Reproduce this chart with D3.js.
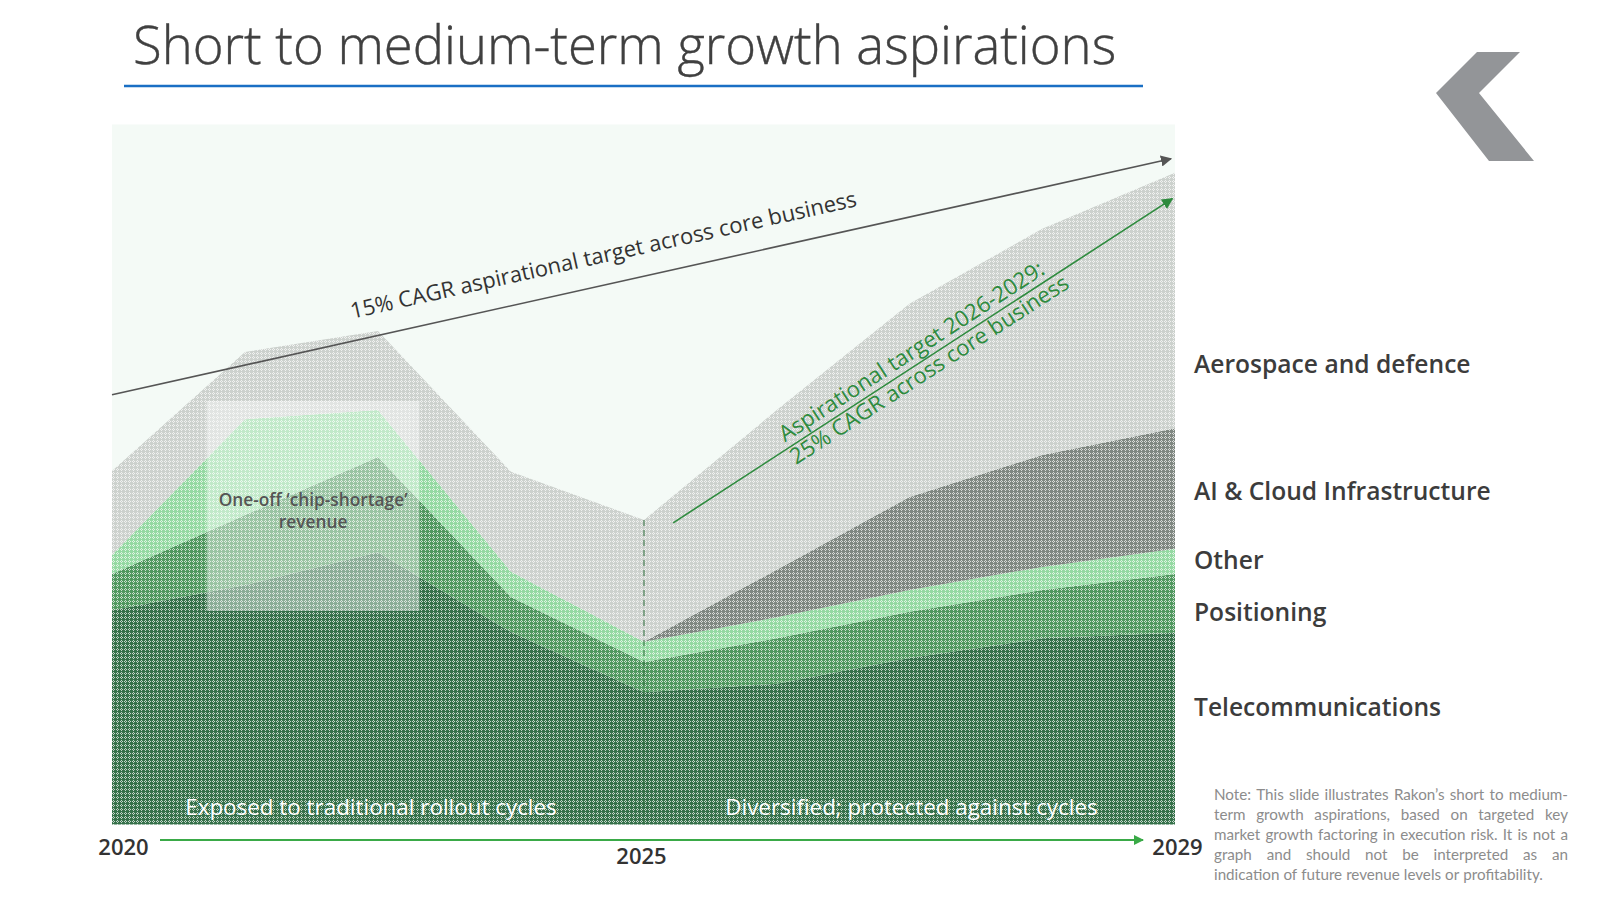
<!DOCTYPE html>
<html><head><meta charset="utf-8">
<script src="https://cdn.jsdelivr.net/npm/d3@7"></script>
<style>
html,body{margin:0;padding:0;background:#fff;}
svg{display:block;font-family:"Open Sans",sans-serif;}
</style></head>
<body>
<svg id="chart" width="1600" height="900"></svg>
<script>
// ---------- DATA ----------
const periods = [2020, 2021.25, 2022.5, 2023.75, 2025, 2026, 2027, 2028, 2029];
const telecom      = [30.6, 34.2, 38.9, 27.5, 18.9, 20.1, 23.8, 26.6, 27.4];
const positioning  = [5.2, 10.0, 13.6, 5.0, 4.3, 6.5, 6.6, 6.9, 8.4];
const other        = [2.7, 13.7, 6.7, 3.6, 2.9, 3.0, 3.1, 3.3, 3.6];
const aiCloud      = [0, 0, 0, 0, 0, 6.8, 13.3, 16.0, 17.2];
const aerospace    = [12.0, 9.6, 11.3, 14.3, 17.4, 22.8, 27.6, 32.3, 36.5];
const seriesNames  = ["Telecommunications", "Positioning", "Other", "AI & Cloud Infrastructure", "Aerospace and defence"];
const tickYears    = [2020, 2025, 2029];

// ---------- SETUP ----------
const svg = d3.select("#chart");
const plot = {left:112, right:1175, top:124.5, bottom:824.5};
const x = d3.scaleLinear().domain([2020, 2025, 2029]).range([plot.left, 644, plot.right]);
const y = d3.scaleLinear().domain([0, 100]).range([plot.bottom, plot.top]);

const rows = periods.map((p,i)=>({period:p, "Telecommunications":telecom[i], "Positioning":positioning[i],
  "Other":other[i], "AI & Cloud Infrastructure":aiCloud[i], "Aerospace and defence":aerospace[i]}));
const stack = d3.stack().keys(seriesNames)(rows);

const baseColors = {
  "Telecommunications":"#36714a",
  "Positioning":"#50985f",
  "Other":"#94d9a2",
  "AI & Cloud Infrastructure":"#7f8781",
  "Aerospace and defence":"#ccd1cd"
};

const defs = svg.append("defs");
seriesNames.forEach((k,i)=>{
  const p = defs.append("pattern").attr("id","pat"+i).attr("width",4).attr("height",4)
    .attr("patternUnits","userSpaceOnUse");
  p.append("rect").attr("width",4).attr("height",4).attr("fill",baseColors[k]);
  [[1,0],[0,1],[2,1],[1,2]].forEach(([a,b])=>p.append("rect").attr("x",a).attr("y",b)
     .attr("width",1).attr("height",1).attr("fill","#fff").attr("fill-opacity",0.7));
});
defs.append("marker").attr("id","arrBlack").attr("viewBox","0 0 10 10").attr("refX",9).attr("refY",5)
  .attr("markerWidth",7).attr("markerHeight",7).attr("orient","auto")
  .append("path").attr("d","M0,0 L10,5 L0,10 z").attr("fill","#555");
defs.append("marker").attr("id","arrGreen").attr("viewBox","0 0 10 10").attr("refX",9).attr("refY",5)
  .attr("markerWidth",7).attr("markerHeight",7).attr("orient","auto")
  .append("path").attr("d","M0,0 L10,5 L0,10 z").attr("fill","#2e8b3e");
defs.append("marker").attr("id","arrAxis").attr("viewBox","0 0 10 10").attr("refX",9).attr("refY",5)
  .attr("markerWidth",5).attr("markerHeight",5).attr("orient","auto")
  .append("path").attr("d","M0,0 L10,5 L0,10 z").attr("fill","#3aaa47");

// ---------- TITLE ----------
svg.append("text").attr("x",133).attr("y",64).attr("font-size",52.6).attr("font-weight",300)
  .attr("fill","#404040").attr("stroke","#404040").attr("stroke-width",0.4)
  .text("Short to medium-term growth aspirations");
svg.append("line").attr("x1",124).attr("x2",1143).attr("y1",86).attr("y2",86)
  .attr("stroke","#1a6fc4").attr("stroke-width",2.5);

// logo chevron
svg.append("polygon").attr("points","1477,52 1520,52 1479,93 1534,161 1489,161 1436,93").attr("fill","#939598");

// ---------- PLOT ----------
svg.append("rect").attr("x",plot.left).attr("y",plot.top).attr("width",plot.right-plot.left)
  .attr("height",plot.bottom-plot.top).attr("fill","#f4faf6");

const area = d3.area().x(d=>x(d.data.period)).y0(d=>y(d[0])).y1(d=>y(d[1]));
svg.append("g").selectAll("path").data(stack).join("path")
  .attr("d",area).attr("fill",(d,i)=>`url(#pat${i})`);

// chip-shortage overlay box
const box = {x0:2020.89, x1:2022.89, v0:30.5, v1:60.5};
svg.append("rect").attr("x",x(box.x0)).attr("y",y(box.v1)).attr("width",x(box.x1)-x(box.x0))
  .attr("height",y(box.v0)-y(box.v1)).attr("fill","#fff").attr("fill-opacity",0.42);
const bcx = (x(box.x0)+x(box.x1))/2;
svg.append("text").attr("x",bcx).attr("y",506).attr("text-anchor","middle").attr("font-size",17.3)
  .attr("font-weight",600).attr("fill","#555").text("One-off ‘chip-shortage’");
svg.append("text").attr("x",bcx).attr("y",528).attr("text-anchor","middle").attr("font-size",17.3)
  .attr("font-weight",600).attr("fill","#555").text("revenue");

// dashed 2025 line
const idx2025 = periods.indexOf(2025);
svg.append("line").attr("x1",x(2025)).attr("x2",x(2025)).attr("y1",y(stack[stack.length-1][idx2025][1]))
  .attr("y2",y(0)).attr("stroke","#2f6e3c").attr("stroke-width",1).attr("stroke-dasharray","6,4");

// bottom texts inside plot
svg.append("text").attr("x",(x(2020)+x(2025))/2-7).attr("y",815).attr("text-anchor","middle")
  .attr("font-size",22.4).attr("fill","#fff").text("Exposed to traditional rollout cycles");
svg.append("text").attr("x",(x(2025)+x(2029))/2+2).attr("y",815).attr("text-anchor","middle")
  .attr("font-size",22.4).attr("fill","#fff").text("Diversified; protected against cycles");

// 15% CAGR arrow
const blk = {p0:[2020, 61.4], p1:[2028.97, 95.1]};
const bx0=x(blk.p0[0]), by0=y(blk.p0[1]), bx1=x(blk.p1[0]), by1=y(blk.p1[1]);
svg.append("line").attr("x1",bx0).attr("y1",by0).attr("x2",bx1).attr("y2",by1)
  .attr("stroke","#555").attr("stroke-width",1.6).attr("marker-end","url(#arrBlack)");
const bAng = Math.atan2(by1-by0, bx1-bx0)*180/Math.PI;
const bt = 0.47, bmx = bx0+(bx1-bx0)*bt, bmy = by0+(by1-by0)*bt;
svg.append("text").attr("transform",`translate(${bmx},${bmy}) rotate(${bAng})`).attr("y",-22)
  .attr("text-anchor","middle").attr("font-size",22).attr("fill","#333")
  .text("15% CAGR aspirational target across core business");

// 25% CAGR arrow
const grn = {p0:[2025.22, 43.1], p1:[2028.98, 89.4]};
const gx0=x(grn.p0[0]), gy0=y(grn.p0[1]), gx1=x(grn.p1[0]), gy1=y(grn.p1[1]);
svg.append("line").attr("x1",gx0).attr("y1",gy0).attr("x2",gx1).attr("y2",gy1)
  .attr("stroke","#2e8b3e").attr("stroke-width",1.6).attr("marker-end","url(#arrGreen)");
const gAng = Math.atan2(gy1-gy0, gx1-gx0)*180/Math.PI;
const gmx = (gx0+gx1)/2 - 4, gmy=(gy0+gy1)/2 + 2;
const gt = svg.append("text").attr("transform",`translate(${gmx},${gmy}) rotate(${gAng})`)
  .attr("text-anchor","middle").attr("font-size",22.2).attr("fill","#2e8b3e");
gt.append("tspan").attr("x",0).attr("y",-6).text("Aspirational target 2026-2029:");
gt.append("tspan").attr("x",5).attr("y",19).text("25% CAGR across core business");

// ---------- SERIES LABELS ----------
const lblY = [707, 612, 560, 491, 364];
seriesNames.forEach((k,i)=>{
  svg.append("text").attr("x",1194).attr("y",lblY[i]).attr("dy","0.35em").attr("font-size",24.6)
    .attr("font-weight",600).attr("fill","#3c3c3c").text(k);
});

// ---------- AXIS ----------
svg.append("line").attr("x1",160).attr("x2",1143).attr("y1",840).attr("y2",840)
  .attr("stroke","#3aaa47").attr("stroke-width",2).attr("marker-end","url(#arrAxis)");
const axis = svg.append("g").attr("transform",`translate(0,${plot.bottom})`)
  .call(d3.axisBottom(x).tickValues(tickYears).tickFormat(d3.format("d")).tickSize(0));
axis.select(".domain").remove();
axis.selectAll("text").attr("font-family","Open Sans").attr("font-size",22).attr("font-weight",600)
  .attr("fill","#333").attr("dy",0)
  .attr("y",d=>d===2025?39:30)
  .attr("x",d=>d===2020?11:(d===2029?2:-3));

// ---------- NOTE ----------
const noteLines = [
  "Note: This slide illustrates Rakon’s short to medium-",
  "term growth aspirations, based on targeted key",
  "market growth factoring in execution risk. It is not a",
  "graph and should not be interpreted as an",
  "indication of future revenue levels or profitability."
];
const nx0 = 1214, nx1 = 1568;
noteLines.forEach((ln,i)=>{
  const yy = 800 + i*20;
  const g = svg.append("g");
  const words = ln.split(" ");
  const ts = words.map(w=>g.append("text").attr("y",yy).attr("font-family","Lato").attr("font-size",15.2)
    .attr("fill","#8c8c8c").text(w));
  const widths = ts.map(t=>t.node().getComputedTextLength());
  const total = d3.sum(widths);
  const space = (i===noteLines.length-1) ? 4 : (nx1-nx0-total)/(words.length-1);
  let cx = nx0;
  ts.forEach((t,j)=>{ t.attr("x",cx); cx += widths[j]+space; });
});
</script>
</body></html>
